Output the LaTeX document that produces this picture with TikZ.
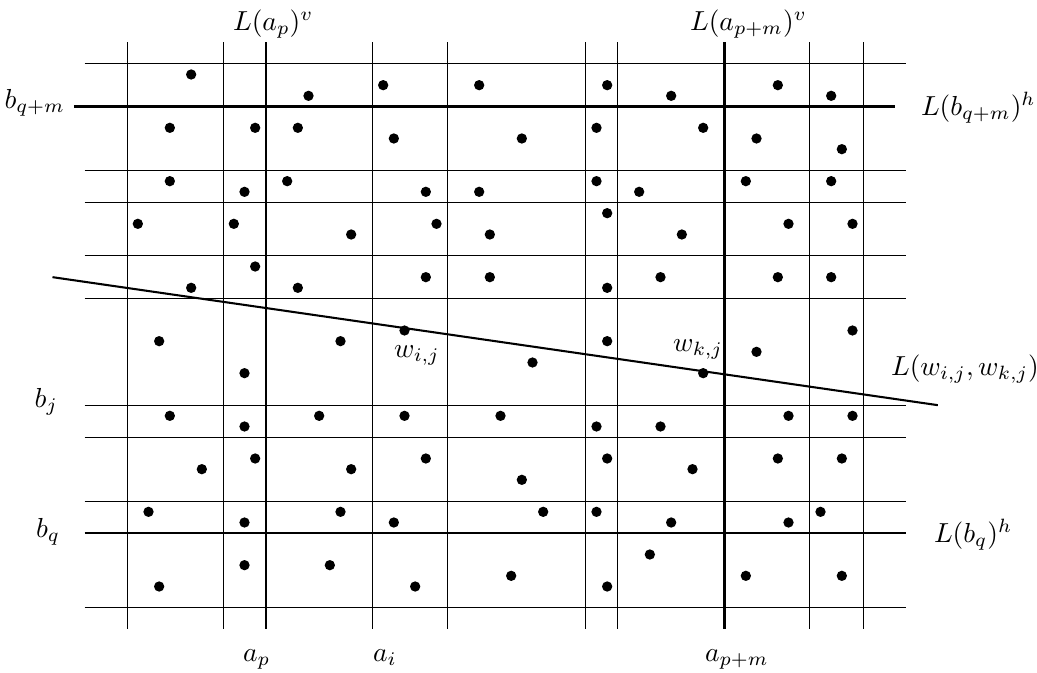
\documentclass[tikz,border=0pt]{standalone}
\usepackage{tikz}
\begin{document}
\begin{tikzpicture}[x=3.8788pt,y=-3.8788pt,
  thinline/.style={line width=0.38pt},
  thickline/.style={line width=0.75pt},
  dot/.style={circle,fill=black,draw=none,inner sep=0pt,minimum size=3.75pt},
  lab/.style={inner sep=0pt}]
\useasboundingbox (-11.922,-5.984) rectangle (85.297,57.109);
% horizontal grid lines
\foreach \y in {0,10,13,18,22,32,35,41,51}
  \draw[thinline] (-4,\y) -- (73,\y);
\draw[thickline] (-5,4) -- (72,4);
\draw[thickline] (-4,44) -- (73,44);
% vertical grid lines
\foreach \x in {0,9,23,30,43,46,64,69}
  \draw[thinline] (\x,-2) -- (\x,53);
\draw[thickline] (13,-2) -- (13,53);
\draw[thickline] (56,-2) -- (56,53);
% slanted line
\coordinate (sl) at (-7,20);
\coordinate (sr) at (76,32);
\draw[thickline] (sl) -- (sr);
% points
\foreach \px/\py [count=\i] in {6/1,17/3,24/2,33/2,4/6,12/6,16/6,25/7,37/7,4/11,11/12,15/11,28/12,33/12,1/15,10/15,21/16,29/15,34/16,12/19,6/21,16/21,28/20,34/20,26/25,
45/2,51/3,61/2,66/3,44/6,54/6,59/7,67/8,44/11,48/12,58/11,66/11,45/14,52/16,62/15,68/15,50/20,61/20,66/20,45/21,68/25,
3/26,20/26,11/29,4/33,11/34,18/33,26/33,35/33,12/37,7/38,21/38,28/37,37/39,2/42,11/43,20/42,25/43,11/47,19/47,3/49,27/49,36/48,
45/26,59/27,38/28,54/29,62/33,68/33,44/34,50/34,45/37,53/38,61/37,67/37,39/42,44/42,51/43,62/43,65/42,49/46,45/49,58/48,67/48}
  \node[dot] (d\i) at (\px,\py) {};
% labels
\node[lab,anchor=base west] (lap) at (9.875,-3.125) {$L(a_p)^v$};
\node[lab,anchor=base west] (lapm) at (52.72,-3.125) {$L(a_{p+m})^v$};
\node[lab,anchor=base east] (bqm) at (-5.78,4.19) {$b_{q+m}$};
\node[lab,anchor=base west] (lbqm) at (74.37,4.84) {$L(b_{q+m})^h$};
\node[lab,anchor=base east] (bj) at (-6.44,32.22) {$b_j$};
\node[lab,anchor=base east] (bq) at (-6.25,44.4) {$b_q$};
\node[lab,anchor=base west] (wij) at (24.97,27.53) {$w_{i,j}$};
\node[lab,anchor=base west] (wkj) at (51.13,26.97) {$w_{k,j}$};
\node[lab,anchor=base west] (lw) at (71.56,29.21) {$L(w_{i,j},w_{k,j})$};
\node[lab,anchor=base west] (lbq) at (75.59,44.87) {$L(b_q)^h$};
\node[lab,anchor=base west] (ap) at (10.81,56.0) {$a_p$};
\node[lab,anchor=base west] (ai) at (23.0,56.0) {$a_i$};
\node[lab,anchor=base west] (apm) at (54.12,56.0) {$a_{p+m}$};
\end{tikzpicture}
\end{document}
